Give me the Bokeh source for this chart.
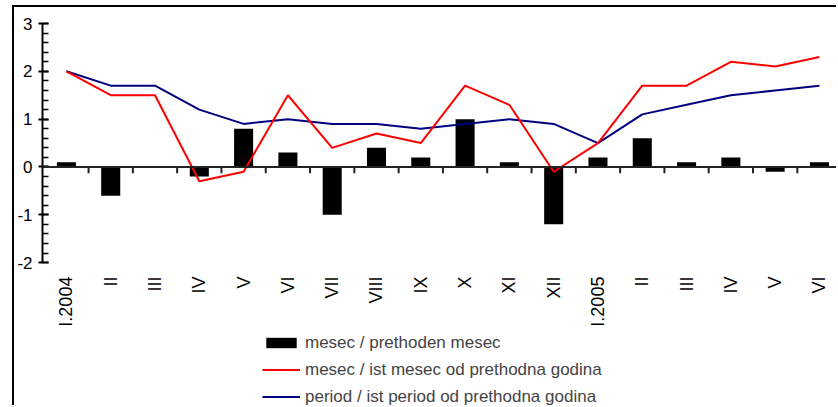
import math
from bokeh.plotting import figure
from bokeh.models import (Range1d, SingleIntervalTicker, Legend, LegendItem, Span, LinearAxis)
from bokeh.core.properties import value
from bokeh.embed import file_html
from bokeh.resources import INLINE

# ---- data ----
categories = ["I.2004", "II", "III", "IV", "V", "VI", "VII", "VIII", "IX", "X", "XI", "XII",
              "I.2005", "II", "III", "IV", "V", "VI"]
mesec_prethoden = [0.1, -0.6, 0.0, -0.2, 0.8, 0.3, -1.0, 0.4, 0.2, 1.0, 0.1, -1.2,
                   0.2, 0.6, 0.1, 0.2, -0.1, 0.1]
mesec_ist_mesec = [2.0, 1.5, 1.5, -0.3, -0.1, 1.5, 0.4, 0.7, 0.5, 1.7, 1.3, -0.1,
                   0.5, 1.7, 1.7, 2.2, 2.1, 2.3]
period_ist_period = [2.0, 1.7, 1.7, 1.2, 0.9, 1.0, 0.9, 0.9, 0.8, 0.9, 1.0, 0.9,
                     0.5, 1.1, 1.3, 1.5, 1.6, 1.7]
series_names = ["mesec / prethoden mesec",
                "mesec / ist mesec od prethodna godina",
                "period / ist period od prethodna godina"]
y_ticks = [-2, -1, 0, 1, 2, 3]
y_tick_labels = ["-2", "-1", "0", "1", "2", "3"]

FONT = "Liberation Sans"
xs = list(range(len(categories)))
y_min, y_max = y_ticks[0], y_ticks[-1]

# frame extends below the value axis to hold the category labels and legend
p = figure(width=824, height=400, x_range=Range1d(-0.54, 17.43),
           y_range=Range1d(-5.03, y_max),
           output_backend="svg", toolbar_location=None,
           x_axis_location=None, y_axis_location=None,
           min_border_left=28, min_border_right=0, min_border_top=16, min_border_bottom=0)
p.styles = {"margin-left": "12px", "margin-top": "5px",
            "border-left": "2px solid black", "border-top": "2px solid black"}

p.grid.visible = False
p.outline_line_color = None

# y axis limited to the value range
ya = LinearAxis(ticker=SingleIntervalTicker(interval=1, num_minor_ticks=5),
                bounds=(y_min, y_max))
ya.major_label_overrides = {t: l for t, l in zip(y_ticks, y_tick_labels)}
ya.axis_line_width = 2
ya.axis_line_color = "black"
ya.major_tick_in = 6
ya.major_tick_out = 4
ya.major_tick_line_width = 2
ya.minor_tick_in = 6
ya.minor_tick_out = 0
ya.minor_tick_line_width = 1.5
ya.minor_tick_line_color = "black"
ya.major_label_standoff = 6
ya.major_label_text_font = FONT
ya.major_label_text_font_size = "17px"
ya.major_label_text_color = "black"
p.add_layout(ya, "left")

# zero line with category separator ticks
p.add_layout(Span(location=0, dimension="width", line_color="#222222", line_width=2))
bounds = [i + 0.5 for i in xs[:-1]]
p.segment(x0=bounds, y0=[0] * len(bounds), x1=bounds, y1=[-0.13] * len(bounds),
          line_color="#222222", line_width=2)

# category labels (vertical, below the value axis)
p.text(x=xs, y=[y_min] * len(xs), text=categories, angle=math.pi / 2,
       x_offset=0, y_offset=14, text_align="right", text_baseline="middle",
       text_font=value(FONT), text_font_size="18px", text_color="black")

bars = p.vbar(x=xs, top=mesec_prethoden, width=0.43, fill_color="black", line_color=None)
blue = p.line(xs, period_ist_period, line_color="#000080", line_width=2)
red = p.line(xs, mesec_ist_mesec, line_color="#ff0000", line_width=2)

legend = Legend(items=[LegendItem(label=series_names[0], renderers=[bars]),
                       LegendItem(label=series_names[1], renderers=[red]),
                       LegendItem(label=series_names[2], renderers=[blue])],
                location=(220, 0), orientation="vertical",
                glyph_width=38, glyph_height=13, label_height=21, spacing=6,
                padding=0, margin=0, label_standoff=5,
                label_text_font=FONT, label_text_font_size="17px",
                border_line_color=None, background_fill_alpha=0)
p.add_layout(legend, "center")

open("out.html", "w").write(file_html(p, INLINE))
